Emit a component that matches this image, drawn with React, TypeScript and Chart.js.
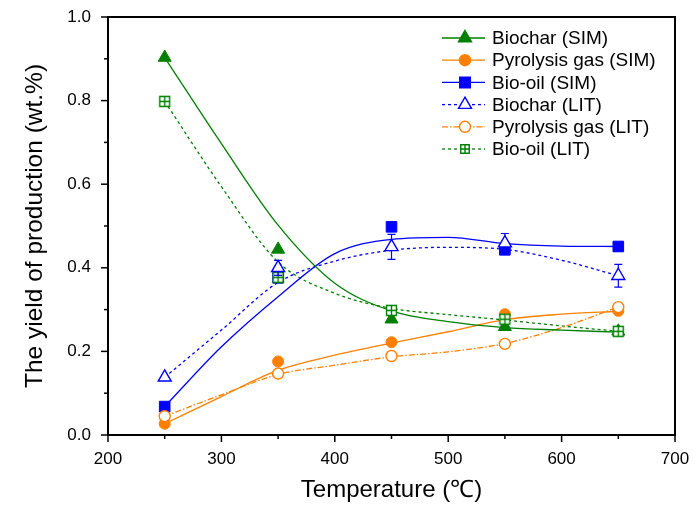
import React, { useEffect, useRef } from 'react';
import { Chart, registerables } from 'chart.js';
Chart.register(...registerables);

// ---- data ----
const temps = [250, 350, 450, 550, 650];
const biocharSim = [0.903, 0.444, 0.277, 0.259, 0.248];
const pyroGasSim = [0.027, 0.176, 0.222, 0.289, 0.297];
const bioOilSim = [0.068, 0.376, 0.498, 0.443, 0.451];
const biocharLit = [0.138, 0.4, 0.45, 0.459, 0.381];
const biocharLitErr = [0, 0.018, 0.03, 0.023, 0.027];
const pyroGasLit = [0.045, 0.147, 0.189, 0.218, 0.306];
const bioOilLit = [0.798, 0.377, 0.298, 0.277, 0.248];

// smoothed curves as drawn in the picture
const curveTemps = [250, 300, 350, 400, 450, 500, 550, 600, 650];
const biocharSimCurve = [0.903, 0.697, 0.502, 0.363, 0.297, 0.271, 0.257, 0.251, 0.246];
const pyroGasSimCurve = [0.027, 0.092, 0.155, 0.191, 0.22, 0.247, 0.276, 0.289, 0.296];
const bioOilSimCurve = [0.068, 0.211, 0.331, 0.434, 0.468, 0.473, 0.458, 0.452, 0.451];
const biocharLitCurve = [0.138, 0.251, 0.365, 0.416, 0.442, 0.449, 0.444, 0.418, 0.381];
const pyroGasLitCurve = [0.045, 0.096, 0.145, 0.167, 0.187, 0.199, 0.219, 0.257, 0.306];
const bioOilLitCurve = [0.798, 0.594, 0.414, 0.339, 0.303, 0.288, 0.275, 0.261, 0.248];

const seriesLabels = [
  'Biochar (SIM)',
  'Pyrolysis gas (SIM)',
  'Bio-oil (SIM)',
  'Biochar (LIT)',
  'Pyrolysis gas (LIT)',
  'Bio-oil (LIT)',
];
const xTitle = 'Temperature (\u2103)';
const yTitle = 'The yield of production (wt.%)';

const GREEN = '#008000';
const ORANGE = '#FF8000';
const BLUE = '#0000FF';
const FONT = "'Liberation Sans', Arial, sans-serif";

type Style = {
  color: string;
  marker: 'triangle' | 'circle' | 'rect' | 'gridrect';
  filled: boolean;
  dash: number[];
  radius: number;
};

const styles: Style[] = [
  { color: GREEN, marker: 'triangle', filled: true, dash: [], radius: 7.5 },
  { color: ORANGE, marker: 'circle', filled: true, dash: [], radius: 5.5 },
  { color: BLUE, marker: 'rect', filled: true, dash: [], radius: 7.5 },
  { color: BLUE, marker: 'triangle', filled: false, dash: [3, 3], radius: 7.5 },
  { color: ORANGE, marker: 'circle', filled: false, dash: [6, 2, 1.5, 2], radius: 5.5 },
  { color: GREEN, marker: 'gridrect', filled: false, dash: [3, 3], radius: 6 },
];

function drawMarker(ctx: CanvasRenderingContext2D, s: Style, x: number, y: number) {
  ctx.save();
  ctx.setLineDash([]);
  ctx.lineWidth = 1.4;
  ctx.strokeStyle = s.color;
  ctx.fillStyle = s.filled ? s.color : '#ffffff';
  const r = s.radius;
  ctx.beginPath();
  if (s.marker === 'triangle') {
    let rad = 0;
    ctx.moveTo(x + Math.sin(rad) * r, y - Math.cos(rad) * r);
    rad += (2 * Math.PI) / 3;
    ctx.lineTo(x + Math.sin(rad) * r, y - Math.cos(rad) * r);
    rad += (2 * Math.PI) / 3;
    ctx.lineTo(x + Math.sin(rad) * r, y - Math.cos(rad) * r);
    ctx.closePath();
  } else if (s.marker === 'circle') {
    ctx.arc(x, y, r, 0, Math.PI * 2);
  } else {
    const h = r * Math.SQRT1_2;
    ctx.rect(x - h, y - h, 2 * h, 2 * h);
  }
  ctx.fill();
  ctx.stroke();
  if (s.marker === 'gridrect') {
    const h = r * Math.SQRT1_2;
    ctx.beginPath();
    ctx.moveTo(x, y - h);
    ctx.lineTo(x, y + h);
    ctx.moveTo(x - h, y);
    ctx.lineTo(x + h, y);
    ctx.stroke();
  }
  ctx.restore();
}

function makeGridRectImage(s: Style): HTMLCanvasElement {
  const size = 13;
  const c = document.createElement('canvas');
  c.width = size;
  c.height = size;
  const cx = c.getContext('2d')!;
  drawMarker(cx, { ...s, radius: 7 }, size / 2, size / 2);
  return c;
}

const framePlugin = {
  id: 'frameTicks',
  afterDraw(chart: any) {
    const { ctx, chartArea: a, scales } = chart;
    ctx.save();
    ctx.strokeStyle = '#000';
    ctx.lineWidth = 2;
    ctx.setLineDash([]);
    ctx.strokeRect(a.left, a.top, a.right - a.left, a.bottom - a.top);
    ctx.lineWidth = 1.5;
    const xs = scales.x;
    const xStep = 50;
    for (let i = 0; xs.min + i * xStep <= xs.max + 1e-6; i++) {
      const px = xs.getPixelForValue(xs.min + i * xStep);
      const len = i % 2 === 0 ? 7 : 4;
      ctx.beginPath();
      ctx.moveTo(px, a.bottom);
      ctx.lineTo(px, a.bottom + len);
      ctx.stroke();
    }
    const ys = scales.y;
    const yStep = 0.1;
    for (let i = 0; ys.min + i * yStep <= ys.max + 1e-6; i++) {
      const py = ys.getPixelForValue(ys.min + i * yStep);
      const len = i % 2 === 0 ? 7 : 4;
      ctx.beginPath();
      ctx.moveTo(a.left, py);
      ctx.lineTo(a.left - len, py);
      ctx.stroke();
    }
    ctx.restore();
  },
};

const errorBarPlugin = {
  id: 'errorBars',
  beforeDatasetDraw(chart: any, args: any) {
    const ds = chart.data.datasets[args.index];
    if (!ds.errors) return;
    const { ctx, scales } = chart;
    const ys = scales.y;
    const xs = scales.x;
    ctx.save();
    ctx.strokeStyle = ds.borderColor;
    ctx.lineWidth = 1.2;
    ctx.setLineDash([]);
    ds.data.forEach((p: any, i: number) => {
      const e = ds.errors[i];
      if (!e) return;
      const px = xs.getPixelForValue(p.x);
      const top = ys.getPixelForValue(p.y + e);
      const bot = ys.getPixelForValue(p.y - e);
      ctx.beginPath();
      ctx.moveTo(px, top);
      ctx.lineTo(px, bot);
      ctx.moveTo(px - 4, top);
      ctx.lineTo(px + 4, top);
      ctx.moveTo(px - 4, bot);
      ctx.lineTo(px + 4, bot);
      ctx.stroke();
    });
    ctx.restore();
  },
};

const legendPlugin = {
  id: 'customLegend',
  afterDraw(chart: any) {
    const { ctx, chartArea: a } = chart;
    const x0 = a.right - 233;
    const y0 = a.top + 21;
    const step = 22.2;
    ctx.save();
    ctx.font = `19px ${FONT}`;
    ctx.textBaseline = 'middle';
    ctx.textAlign = 'left';
    seriesLabels.forEach((label, i) => {
      const s = styles[i];
      const y = y0 + i * step;
      ctx.strokeStyle = s.color;
      ctx.lineWidth = 1.3;
      ctx.setLineDash(s.dash);
      ctx.beginPath();
      ctx.moveTo(x0, y);
      ctx.lineTo(x0 + 43, y);
      ctx.stroke();
      drawMarker(ctx, s, x0 + 23, y);
      ctx.fillStyle = '#000';
      ctx.fillText(label, x0 + 50, y + 1);
    });
    ctx.restore();
  },
};

export default function App() {
  const ref = useRef<HTMLCanvasElement>(null);
  useEffect(() => {
    if (!ref.current) return;
    const markerSets = [biocharSim, pyroGasSim, bioOilSim, biocharLit, pyroGasLit, bioOilLit];
    const curveSets = [
      biocharSimCurve,
      pyroGasSimCurve,
      bioOilSimCurve,
      biocharLitCurve,
      pyroGasLitCurve,
      bioOilLitCurve,
    ];
    const datasets: any[] = [];
    curveSets.forEach((vals, i) => {
      const s = styles[i];
      datasets.push({
        label: seriesLabels[i] + ' curve',
        data: curveTemps.map((t, j) => ({ x: t, y: vals[j] })),
        showLine: true,
        borderColor: s.color,
        borderWidth: 1.3,
        borderDash: s.dash,
        pointRadius: 0,
        cubicInterpolationMode: 'monotone',
        order: 3,
      });
    });
    markerSets.forEach((vals, i) => {
      const s = styles[i];
      const ds: any = {
        label: seriesLabels[i],
        data: temps.map((t, j) => ({ x: t, y: vals[j] })),
        showLine: false,
        borderColor: s.color,
        backgroundColor: s.filled ? s.color : '#ffffff',
        pointBorderWidth: s.filled ? 1 : 1.4,
        pointRadius: s.radius,
        pointStyle: s.marker === 'gridrect' ? makeGridRectImage(s) : s.marker,
        order: s.filled ? 2 : 1,
      };
      if (i === 3) ds.errors = biocharLitErr;
      datasets.push(ds);
    });

    const chart = new Chart(ref.current, {
      type: 'scatter',
      data: { datasets },
      plugins: [errorBarPlugin, framePlugin, legendPlugin],
      options: {
        animation: false,
        responsive: false,
        layout: { padding: { top: 17, right: 19, left: 0, bottom: 0 } },
        plugins: { legend: { display: false }, tooltip: { enabled: false } },
        scales: {
          x: {
            type: 'linear',
            min: 200,
            max: 700,
            grid: { display: false, drawTicks: false },
            border: { display: false },
            ticks: {
              stepSize: 100,
              padding: 14,
              color: '#000',
              font: { size: 17, family: FONT },
              maxRotation: 0,
            },
            title: {
              display: true,
              text: xTitle,
              color: '#000',
              font: { size: 24, family: FONT },
              padding: { top: 0, bottom: 4 },
            },
            afterFit(scale: any) {
              scale.height = 74;
              scale.paddingLeft = 0;
              scale.paddingRight = 0;
            },
          },
          y: {
            type: 'linear',
            min: 0,
            max: 1,
            grid: { display: false, drawTicks: false },
            border: { display: false },
            ticks: {
              stepSize: 0.2,
              padding: 17,
              color: '#000',
              font: { size: 17, family: FONT },
              callback: (v: any) => Number(v).toFixed(1),
            },
            title: {
              display: true,
              text: yTitle,
              color: '#000',
              font: { size: 24.5, family: FONT },
              padding: { top: 21, bottom: 0 },
            },
            afterFit(scale: any) {
              scale.width = 108;
              scale.paddingTop = 0;
              scale.paddingBottom = 0;
            },
          },
        },
      } as any,
    });
    return () => chart.destroy();
  }, []);
  return (
    <div style={{ position: 'fixed', left: 0, top: 0, width: 694, height: 509, background: '#fff' }}>
      <canvas ref={ref} width={694} height={509} style={{ display: 'block' }} />
    </div>
  );
}
